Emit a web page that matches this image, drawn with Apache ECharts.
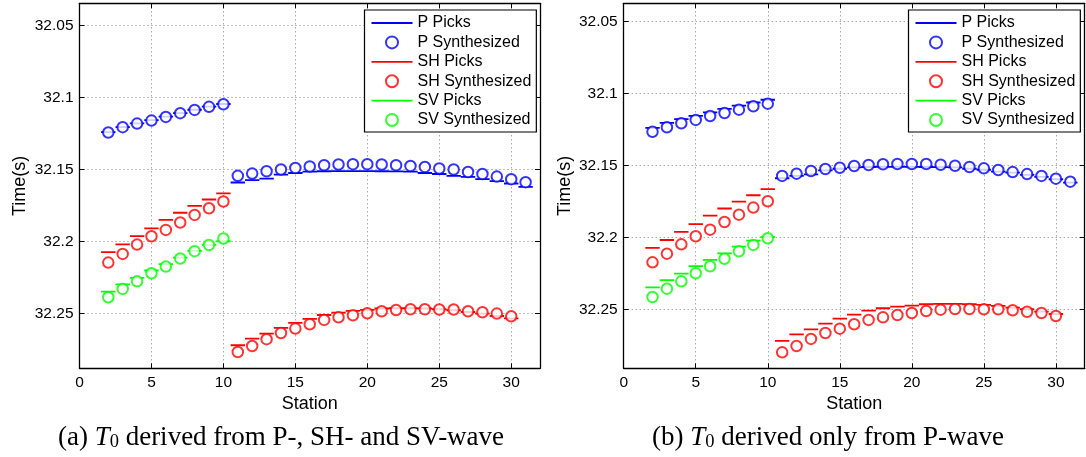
<!DOCTYPE html>
<html><head><meta charset="utf-8">
<script src="https://cdn.jsdelivr.net/npm/echarts@6/dist/echarts.min.js"></script>
<style>html,body{margin:0;padding:0;background:#fff}#c{width:1086px;height:457px}</style>
</head><body><div id="c"></div>
<script>
// ---- data ----
const stations = [2,3,4,5,6,7,8,9,10,11,12,13,14,15,16,17,18,19,20,21,22,23,24,25,26,27,28,29,30,31];
// observed picks (same in both panels)
const pPicks  = [32.1240,32.1205,32.1180,32.1157,32.1133,32.1108,32.1085,32.1064,32.1045,
                 32.1590,32.1574,32.1563,32.1535,32.1524,32.1514,32.1512,32.1511,32.1511,32.1511,32.1512,32.1513,32.1514,32.1524,32.1531,32.1544,32.1551,32.1567,32.1581,32.1597,32.1621];
const shPicks = [32.2074,32.2019,32.1962,32.1908,32.1850,32.1800,32.1753,32.1708,32.1666,
                 32.2720,32.2674,32.2639,32.2600,32.2565,32.2537,32.2510,32.2493,32.2482,32.2475,32.2465,32.2463,32.2463,32.2465,32.2470,32.2477,32.2489,32.2500,32.2517,32.2533,null];
const svPicks = [32.2348,32.2297,32.2252,32.2201,32.2157,32.2112,32.2065,32.2023,32.1998];
// (a) synthesized
const pSynA  = [32.1243,32.1206,32.1181,32.1160,32.1135,32.1109,32.1086,32.1065,32.1047,
                32.1544,32.1528,32.1512,32.1500,32.1489,32.1479,32.1470,32.1465,32.1463,32.1463,32.1465,32.1470,32.1475,32.1482,32.1493,32.1500,32.1517,32.1531,32.1549,32.1567,32.1588];
const shSynA = [32.2146,32.2086,32.2021,32.1963,32.1919,32.1868,32.1815,32.1769,32.1722,
                32.2767,32.2725,32.2678,32.2635,32.2604,32.2574,32.2544,32.2526,32.2512,32.2498,32.2484,32.2475,32.2470,32.2470,32.2472,32.2472,32.2484,32.2491,32.2500,32.2519,null];
const svSynA = [32.2387,32.2329,32.2276,32.2220,32.2174,32.2118,32.2067,32.2024,32.1979];
// (b) synthesized
const pSynB  = [32.1267,32.1236,32.1208,32.1185,32.1158,32.1137,32.1114,32.1090,32.1072,
                32.1574,32.1558,32.1540,32.1526,32.1517,32.1505,32.1498,32.1493,32.1491,32.1491,32.1491,32.1496,32.1503,32.1512,32.1521,32.1533,32.1547,32.1561,32.1574,32.1593,32.1614];
const shSynB = [32.2174,32.2114,32.2049,32.1993,32.1947,32.1894,32.1843,32.1794,32.1750,
                32.2799,32.2755,32.2706,32.2665,32.2635,32.2604,32.2574,32.2556,32.2540,32.2526,32.2512,32.2503,32.2498,32.2498,32.2500,32.2500,32.2507,32.2517,32.2526,32.2547,null];
const svSynB = [32.2415,32.2357,32.2306,32.2250,32.2201,32.2149,32.2097,32.2053,32.2007];
const yRangeA = [32.0346, 32.2880];
const yRangeB = [32.0375, 32.2910];
const xRange = [0, 32];
const legendNames = ['P Picks','P Synthesized','SH Picks','SH Synthesized','SV Picks','SV Synthesized'];
const captions = ['(a) {it|T}{sub|0} derived from P-, SH- and SV-wave', '(b) {it|T}{sub|0} derived only from P-wave'];

// ---- build ----
const BLUE = '#0000ff', RED = '#ff0000', GREEN = '#00ff00';
function segs(vals) {
  const out = [];
  vals.forEach((v, i) => {
    if (v == null) return;
    const s = stations[i];
    out.push([s - 0.5, v], [s + 0.5, v], [s + 0.5, '-']);
  });
  return out;
}
function pts(vals) {
  const out = [];
  vals.forEach((v, i) => { if (v != null) out.push([stations[i], v]); });
  return out;
}
function pickSeries(name, vals, color, gi) {
  return { type: 'line', name, xAxisIndex: gi * 2, yAxisIndex: gi * 2, data: segs(vals),
    symbol: 'none', showSymbol: false, connectNulls: false, silent: true,
    lineStyle: { color, width: 1.8 }, itemStyle: { color }, animation: false, z: 3 };
}
function synSeries(name, vals, color, gi) {
  return { type: 'scatter', name, xAxisIndex: gi * 2, yAxisIndex: gi * 2, data: pts(vals),
    symbol: 'emptyCircle', symbolSize: 10.5, silent: true,
    itemStyle: { color, borderColor: color, borderWidth: 1.9 }, animation: false, z: 4 };
}
const font = 'Liberation Sans, Arial, sans-serif';
const gridDotted = { color: '#7f7f7f', type: [1, 3], width: 1 };
function xAxes(gi) {
  return [
    { type: 'value', gridIndex: gi, position: 'bottom', min: xRange[0], max: xRange[1], interval: 5,
      axisLine: { show: true, onZero: false, lineStyle: { color: '#000', width: 1.3 } },
      axisTick: { show: true, inside: true, length: 5, lineStyle: { color: '#000' } },
      axisLabel: { color: '#000', fontSize: 15.5, fontFamily: font, margin: 6, showMaxLabel: false },
      splitLine: { show: true, lineStyle: gridDotted },
      name: 'Station', nameLocation: 'middle', nameGap: 19,
      nameTextStyle: { color: '#000', fontSize: 18, fontFamily: font } },
    { type: 'value', gridIndex: gi, position: 'top', min: xRange[0], max: xRange[1], interval: 5,
      axisLine: { show: true, onZero: false, lineStyle: { color: '#000', width: 1.3 } },
      axisTick: { show: true, inside: true, length: 5, lineStyle: { color: '#000' } },
      axisLabel: { show: false }, splitLine: { show: false } }
  ];
}
function yAxes(gi, r) {
  return [
    { type: 'value', gridIndex: gi, position: 'left', inverse: true, min: r[0], max: r[1], splitNumber: 5,
      axisLine: { show: true, onZero: false, lineStyle: { color: '#000', width: 1.3 } },
      axisTick: { show: true, inside: true, length: 5, lineStyle: { color: '#000' } },
      axisLabel: { color: '#000', fontSize: 15.5, fontFamily: font, margin: 6, showMinLabel: false, showMaxLabel: false,
        formatter: v => String(parseFloat(Number(v).toFixed(4))) },
      splitLine: { show: true, lineStyle: gridDotted },
      name: 'Time(s)', nameLocation: 'middle', nameGap: 50, nameRotate: 90,
      nameTextStyle: { color: '#000', fontSize: 18, fontFamily: font } },
    { type: 'value', gridIndex: gi, position: 'right', inverse: true, min: r[0], max: r[1], splitNumber: 5,
      axisLine: { show: true, onZero: false, lineStyle: { color: '#000', width: 1.3 } },
      axisTick: { show: true, inside: true, length: 5, lineStyle: { color: '#000' } },
      axisLabel: { show: false }, splitLine: { show: false } }
  ];
}
const lineIcon = 'path://M0,0L100,0L100,4.4L0,4.4Z';
const legendColors = [BLUE, BLUE, RED, RED, GREEN, GREEN];
function legend(left) {
  return { left, top: 10, orient: 'vertical',
    data: legendNames.map((n, i) => i % 2 === 0
      ? { name: n, icon: lineIcon, itemStyle: { color: legendColors[i], borderWidth: 0 } }
      : { name: n }),
    backgroundColor: '#fff', borderColor: '#000', borderWidth: 1.2, borderRadius: 0,
    padding: [5, 5, 4, 7], itemWidth: 41, itemHeight: 12, itemGap: 3.4, itemTextGap: 5,
    selectedMode: false, symbolKeepAspect: true,
    textStyle: { color: '#000', fontSize: 16, fontFamily: font, lineHeight: 16 } };
}
function caption(x, text) {
  return { type: 'text', x, y: 437.5,
    style: { text, align: 'center', verticalAlign: 'middle', fill: '#000',
      font: '27px "Liberation Serif", "Times New Roman", serif',
      rich: {
        it: { fontStyle: 'italic', fontSize: 27, fontFamily: 'Liberation Serif', fill: '#000' },
        sub: { fontSize: 18.5, fontFamily: 'Liberation Serif', fill: '#000', padding: [10, 0, 0, 0] }
      } } };
}

const series = [];
[[pSynA, shSynA, svSynA], [pSynB, shSynB, svSynB]].forEach((syn, gi) => {
  series.push(pickSeries('P Picks', pPicks, BLUE, gi));
  series.push(synSeries('P Synthesized', syn[0], BLUE, gi));
  series.push(pickSeries('SH Picks', shPicks, RED, gi));
  series.push(synSeries('SH Synthesized', syn[1], RED, gi));
  series.push(pickSeries('SV Picks', svPicks, GREEN, gi));
  series.push(synSeries('SV Synthesized', syn[2], GREEN, gi));
});

const chart = echarts.init(document.getElementById('c'), null, { renderer: 'canvas' });
chart.setOption({
  animation: false,
  backgroundColor: '#fff',
  grid: [
    { left: 79.5, top: 3.3, width: 460.5, height: 365 },
    { left: 623.7, top: 3.3, width: 461, height: 365 }
  ],
  xAxis: [...xAxes(0), ...xAxes(1)],
  yAxis: [...yAxes(0, yRangeA), ...yAxes(1, yRangeB)],
  legend: [legend(364.5), legend(908.5)],
  series,
  graphic: [caption(281, captions[0]), caption(828, captions[1])]
});
</script></body></html>
